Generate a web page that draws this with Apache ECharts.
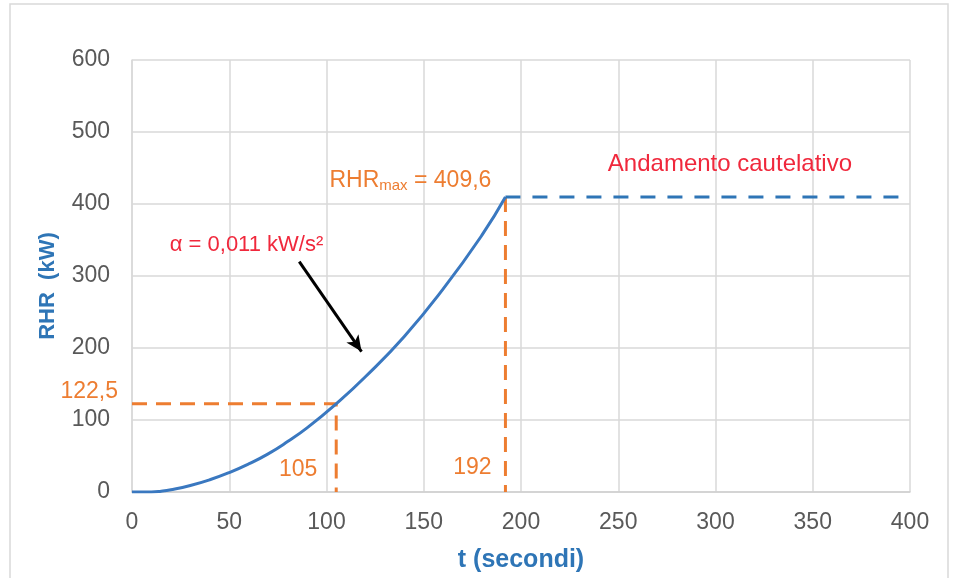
<!DOCTYPE html>
<html>
<head>
<meta charset="utf-8">
<script src="https://cdn.jsdelivr.net/npm/echarts@6/dist/echarts.min.js"></script>
<style>html,body{margin:0;padding:0;background:#fff}#c{width:957px;height:578px}</style>
</head>
<body>
<div id="c"></div>
<script>
// data
var curveT   = [0, 10, 15, 20, 30, 40, 50, 60, 70, 80, 90, 105, 120, 140, 160, 180, 192];
var curveRHR = [0, 0, 1, 3, 9, 17, 27, 39, 53, 70, 89, 122.5, 160, 216, 282, 357, 409.6];
var plateauT   = [192, 400];
var plateauRHR = [409.6, 409.6];
var tIgn = 105, rhrIgn = 122.5;
var tMax = 192, rhrMax = 409.6;
var arrowFrom = [86, 320], arrowTo = [118, 195];

var font = '"Liberation Sans", Arial, sans-serif';
var blue = '#3a78c0', blueDash = '#2e75b6', orange = '#ed7d31', red = '#f0283c', grey = '#595959';

function pairs(a, b) { return a.map(function (v, i) { return [v, b[i]]; }); }

var chart = echarts.init(document.getElementById('c'));
chart.setOption({
  animation: false,
  grid: { left: 132, right: 47, top: 60, bottom: 85 },
  xAxis: {
    type: 'value', min: 0, max: 400, interval: 50,
    name: 't (secondi)', nameLocation: 'middle', nameGap: 56,
    nameTextStyle: { color: blueDash, fontSize: 25, fontWeight: 'bold', fontFamily: font },
    axisLine: { show: true, lineStyle: { color: '#d0d0d0', width: 1.5 } },
    axisTick: { show: false },
    axisLabel: { color: grey, fontSize: 23, fontFamily: font, margin: 19 },
    splitLine: { show: true, lineStyle: { color: '#d9d9d9', width: 1.5 } }
  },
  yAxis: {
    type: 'value', min: 0, max: 600, interval: 100,
    name: 'RHR  (kW)', nameLocation: 'middle', nameGap: 73,
    nameTextStyle: { color: blueDash, fontSize: 22, fontWeight: 'bold', fontFamily: font, padding: [0, 20, 0, 0] },
    axisLine: { show: true, lineStyle: { color: '#d9d9d9', width: 1.5 } },
    axisTick: { show: false },
    axisLabel: { color: grey, fontSize: 23, fontFamily: font, margin: 22 },
    splitLine: { show: true, lineStyle: { color: '#d9d9d9', width: 1.5 } }
  },
  series: [
    { type: 'line', data: pairs(curveT, curveRHR), smooth: true, showSymbol: false,
      lineStyle: { color: blue, width: 3 }, z: 3 },
    { type: 'line', data: pairs(plateauT, plateauRHR), showSymbol: false,
      lineStyle: { color: blueDash, width: 3, type: [15, 12] }, z: 3 },
    { type: 'line', data: [[0, rhrIgn], [tIgn, rhrIgn], [tIgn, 0]], showSymbol: false,
      lineStyle: { color: orange, width: 3, type: [15, 9] }, z: 2 },
    { type: 'line', data: [[tMax, rhrMax], [tMax, 0]], showSymbol: false,
      lineStyle: { color: orange, width: 3, type: [15, 9] }, z: 2 },
    { type: 'line', data: [], showSymbol: false,
      markLine: {
        silent: true, symbol: ['none', 'arrow'], symbolSize: [11, 16],
        label: { show: false },
        lineStyle: { color: '#000', width: 3, type: 'solid' },
        data: [[{ coord: arrowFrom }, { coord: arrowTo }]]
      }
    }
  ]
});

function px(p) { return chart.convertToPixel({ gridIndex: 0 }, p); }
var pIgnY = px([0, rhrIgn]);
var pIgnX = px([tIgn, 0]);
var pMaxX = px([tMax, 0]);
var pMax = px([tMax, rhrMax]);
var pArrow = px(arrowFrom);
var pRight = px([400, rhrMax]);

chart.setOption({
  graphic: [
    { type: 'rect', shape: { x: 10, y: 4, width: 938, height: 600 }, style: { fill: null, stroke: '#d9d9d9', lineWidth: 1.5 }, silent: true, z: -10 },
    { type: 'text', x: pIgnY[0] - 14, y: pIgnY[1] - 12, style: { text: '122,5', fill: orange, font: '23px ' + font, textAlign: 'right', textVerticalAlign: 'middle' } },
    { type: 'text', x: pIgnX[0] - 38, y: pIgnX[1] - 22, style: { text: '105', fill: orange, font: '23px ' + font, textAlign: 'center', textVerticalAlign: 'middle' } },
    { type: 'text', x: pMaxX[0] - 33, y: pMaxX[1] - 24, style: { text: '192', fill: orange, font: '23px ' + font, textAlign: 'center', textVerticalAlign: 'middle' } },
    { type: 'text', x: pMax[0] - 176, y: pMax[1] - 16, style: {
        text: '{a|RHR}{s|max}{a| = 409,6}', textVerticalAlign: 'middle',
        rich: {
          a: { fill: orange, font: '23px ' + font, verticalAlign: 'middle' },
          s: { fill: orange, font: '15px ' + font, padding: [10, 0, 0, 0], verticalAlign: 'middle' }
        } } },
    { type: 'text', x: pRight[0] - 58, y: pRight[1] - 33, style: { text: 'Andamento cautelativo', fill: red, font: '24px ' + font, textAlign: 'right', textVerticalAlign: 'middle' } },
    { type: 'text', x: pArrow[0] + 24, y: pArrow[1] - 17, style: { text: 'α = 0,011 kW/s²', fill: red, font: '22px ' + font, textAlign: 'right', textVerticalAlign: 'middle' } }
  ]
});
</script>
</body>
</html>
